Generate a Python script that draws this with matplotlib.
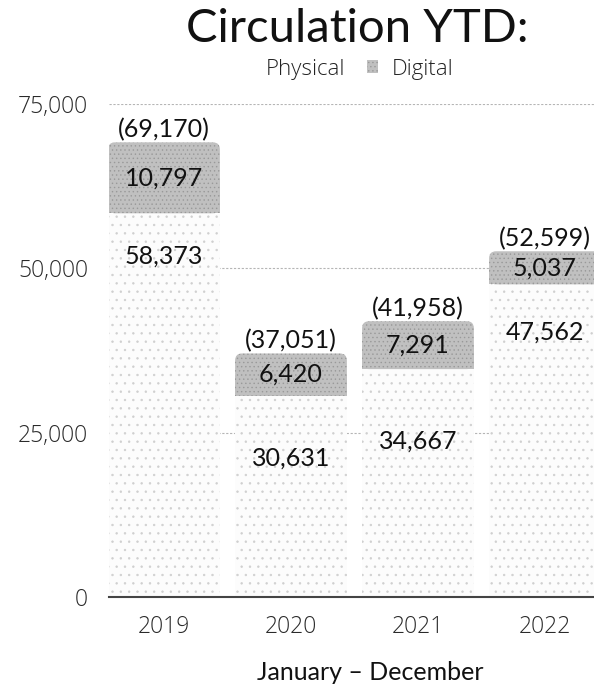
import matplotlib
matplotlib.use('Agg')
import matplotlib.pyplot as plt
from matplotlib.patches import FancyBboxPatch, Patch

# circulation counts, January - December
years = ['2019', '2020', '2021', '2022']
physical = [58373, 30631, 34667, 47562]
digital = [10797, 6420, 7291, 5037]
totals = [69170, 37051, 41958, 52599]

# how far (pt) each physical label sits below the top of its segment
phys_label_drop = [31, 45, 52, 34]

plt.rcParams['hatch.linewidth'] = 0.5
label_font = 'Lato'
tick_font = 'Open Sans'

fig = plt.figure(figsize=(5.94, 6.87), dpi=100)
ax = fig.add_axes([0.1835, 0.131, 0.8165, 0.7176])

x = range(len(years))
width = 0.88

ax.set_xlim(-0.433, 3.386)
ax.set_ylim(0, 75000)

phys_bars = ax.bar(x, physical, width=width, color='#fcfcfc',
                   edgecolor='#cfcfcf', hatch='..', linewidth=0, zorder=2)
dig_bars = ax.bar(x, digital, width=width, bottom=physical, color='#c0c0c0',
                  edgecolor='#999999', hatch='....', linewidth=0, zorder=2)

# round off the top corners of the digital segments
ax_w = fig.get_figwidth() * fig.dpi * ax.get_position().width
ax_h = fig.get_figheight() * fig.dpi * ax.get_position().height
x_per_px = (ax.get_xlim()[1] - ax.get_xlim()[0]) / ax_w
y_per_px = (ax.get_ylim()[1] - ax.get_ylim()[0]) / ax_h
aspect = y_per_px / x_per_px
radius = 7 * x_per_px
for r in dig_bars:
    bx, by = r.get_xy()
    bw, bh = r.get_width(), r.get_height()
    r.set_height(bh / 2)
    ax.add_patch(FancyBboxPatch((bx, by), bw, bh,
                                boxstyle=f'round,pad=0,rounding_size={radius}',
                                mutation_aspect=aspect, facecolor='#c0c0c0',
                                edgecolor='#999999', hatch='....', linewidth=0,
                                zorder=2))

# value labels
for i in x:
    ax.annotate(f'{physical[i]:,}', (i, physical[i]),
                xytext=(0, -phys_label_drop[i]), textcoords='offset points',
                ha='center', va='center', fontsize=18, family=label_font,
                color='#111111', zorder=4)
    ax.text(i, physical[i] + digital[i] / 2, f'{digital[i]:,}',
            ha='center', va='center', fontsize=18, family=label_font,
            color='#111111', zorder=4)
    ax.annotate(f'({totals[i]:,})', (i, physical[i] + digital[i]),
                xytext=(0, 1), textcoords='offset points',
                ha='center', va='bottom', fontsize=18, family=label_font,
                color='#111111', zorder=4)

ax.set_yticks([0, 25000, 50000, 75000])
ax.set_yticklabels(['0', '25,000', '50,000', '75,000'])
ax.set_xticks(list(x))
ax.set_xticklabels(years)
ax.tick_params(axis='both', length=0, labelsize=16.5, colors='#2a2a2a')
ax.tick_params(axis='y', pad=15)
ax.tick_params(axis='x', pad=13)
for lab in ax.get_xticklabels() + ax.get_yticklabels():
    lab.set_family(tick_font)
    lab.set_fontweight('light')

ax.grid(axis='y', color='#b5b5b5', linestyle=(0, (2, 1.5)), linewidth=0.8,
        zorder=0)
ax.set_axisbelow(True)
for side in ['top', 'right', 'left']:
    ax.spines[side].set_visible(False)
ax.spines['bottom'].set_color('#444444')
ax.spines['bottom'].set_linewidth(1.5)
ax.spines['bottom'].set_zorder(3)

fig.text(357 / 594, 1 - 29 / 687, 'Circulation YTD:', ha='center',
         va='center', fontsize=34, family=label_font, color='#111111')
fig.text(370 / 594, 1 - 672 / 687, 'January \u2013 December', ha='center',
         va='center', fontsize=18, family=label_font, color='#111111')

handles = [Patch(facecolor='white', edgecolor='none', label='Physical'),
           Patch(facecolor='#c0c0c0', edgecolor='#999999', hatch='....',
                 linewidth=0, label='Digital')]
leg = fig.legend(handles=handles, loc='center',
                 bbox_to_anchor=(347 / 594, 1 - 69 / 687), ncol=2,
                 frameon=False, handlelength=0.5, handleheight=0.5,
                 handletextpad=0.6, columnspacing=1.0,
                 prop={'family': tick_font, 'size': 16, 'weight': 'light'})
for t in leg.get_texts():
    t.set_color('#222222')

fig.savefig('out.png', dpi=100)
